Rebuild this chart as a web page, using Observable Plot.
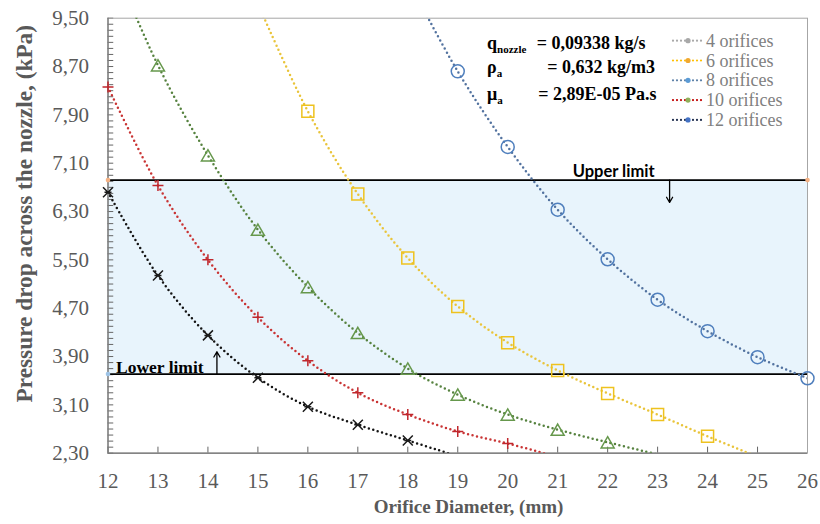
<!DOCTYPE html>
<html>
<head>
<meta charset="utf-8">
<script src="https://cdn.jsdelivr.net/npm/d3@7"></script>
<script src="https://cdn.jsdelivr.net/npm/@observablehq/plot@0.6"></script>
<style>
html, body { margin: 0; padding: 0; background: #fff; }
#chart { position: relative; width: 820px; height: 524px; }
</style>
</head>
<body>
<div id="chart"></div>
<script>
// ---------------- DATA ----------------
const diameters = [12, 13, 14, 15, 16, 17, 18, 19, 20, 21, 22, 23, 24, 25, 26];
const seriesNames = ["4 orifices", "6 orifices", "8 orifices", "10 orifices", "12 orifices"];
// pressure drop (kPa) per diameter; values outside 2.30–9.50 are off-scale estimates (clipped)
const p4  = [null, null, null, null, null, null, 10.14, 8.62, 7.37, 6.33, 5.51, 4.84, 4.32, 3.89, 3.54];
const p6  = [null, null, null, 9.74, 7.96, 6.59, 5.53, 4.73, 4.13, 3.67, 3.29, 2.94, 2.58, 2.24, null];
const p8  = [10.63, 8.72, 7.23, 6.00, 5.05, 4.29, 3.70, 3.27, 2.94, 2.69, 2.48, 2.28, null, null, null];
const p10 = [8.36, 6.73, 5.50, 4.55, 3.83, 3.30, 2.94, 2.66, 2.46, 2.24, null, null, null, null, null];
const p12 = [6.62, 5.24, 4.25, 3.55, 3.07, 2.77, 2.51, 2.25, null, null, null, null, null, null, null];
const seriesValues = [p4, p6, p8, p10, p12];
const limitValues = [3.61, 6.82];           // lower, upper
const limitLabels = ["Lower limit", "Upper limit"];
const xDomain = [12, 26];
const yDomain = [2.3, 9.5];
const yTicks = [2.3, 3.1, 3.9, 4.7, 5.5, 6.3, 7.1, 7.9, 8.7, 9.5];
const xLabel = "Orifice Diameter, (mm)";
const yLabel = "Pressure drop across the nozzle, (kPa)";
const paramSymbols = ["q", "ρ", "μ"];
const paramSubs = ["nozzle", "a", "a"];
const paramValues = ["= 0,09338 kg/s", "= 0,632 kg/m3", "= 2,89E-05 Pa.s"];
const legendLabels = ["4 orifices", "6 orifices", "8 orifices", "10 orifices", "12 orifices"];

// ---------------- STYLES ----------------
const serif = "Liberation Serif, Times New Roman, serif";
const lineColors   = ["#52729f", "#e9c43a", "#56823f", "#c93434", "#141414"];
const markerColors = ["#4f7fbd", "#eec21f", "#66984c", "#c0272d", "#1a1a1a"];
const legendLine = ["#a8a8a8", "#ffc000", "#5b7fa6", "#c00000", "#1f2d4d"];
const legendDot  = ["#a8a8a8", "#f0a830", "#5b9bd5", "#8faf5a", "#4472c4"];

const rad = s => Math.sqrt(s / Math.PI);
const symCircle = {draw(c, s) { const r = rad(s); c.moveTo(r, 0); c.arc(0, 0, r, 0, 2 * Math.PI); }};
const symSquare = {draw(c, s) { const r = rad(s); c.rect(-r, -r, 2 * r, 2 * r); }};
const symTriangle = {draw(c, s) { const r = rad(s); const h = r * Math.sqrt(3); c.moveTo(0, -h / 2); c.lineTo(r, h / 2); c.lineTo(-r, h / 2); c.closePath(); }};
const symPlus = {draw(c, s) { const r = rad(s); c.moveTo(-r, 0); c.lineTo(r, 0); c.moveTo(0, -r); c.lineTo(0, r); }};
const symX = {draw(c, s) { const r = rad(s); c.moveTo(-r, -r); c.lineTo(r, r); c.moveTo(-r, r); c.lineTo(r, -r); c.moveTo(-r * 0.7, 0); c.lineTo(r * 0.7, 0); }};
const markerSymbols = [symCircle, symSquare, symTriangle, symPlus, symX];
const markerR = [6.5, 6, 6.5, 5.5, 5];

const rows = seriesNames.flatMap((name, si) =>
  diameters.map((d, i) => ({series: name, d, p: seriesValues[si][i]})).filter(r => r.p != null));
const inRange = r => r.p >= yDomain[0] && r.p <= yDomain[1];

const yMinor = d3.range(Math.round(yDomain[0] * 10), Math.round(yDomain[1] * 10) + 1).map(v => v / 10);

const seriesMarks = seriesNames.flatMap((name, si) => {
  const data = rows.filter(r => r.series === name);
  return [
    Plot.line(data, {x: "d", y: "p", curve: "catmull-rom", stroke: lineColors[si], strokeWidth: 2.5,
      strokeDasharray: "0 4.6", strokeLinecap: "round", clip: true}),
    Plot.dot(data.filter(inRange), {x: "d", y: "p", symbol: markerSymbols[si], r: markerR[si],
      stroke: markerColors[si], strokeWidth: 1.5, fill: "none"})
  ];
});

const plot = Plot.plot({
  width: 820, height: 524,
  marginLeft: 107.5, marginRight: 13, marginTop: 17.7, marginBottom: 71.3,
  style: "font-family: 'Liberation Serif', 'Times New Roman', serif; background: white; overflow: visible;",
  x: {domain: xDomain, label: null},
  y: {domain: yDomain, label: null},
  marks: [
    Plot.rect([limitValues], {x1: xDomain[0], x2: xDomain[1], y1: d => d[0], y2: d => d[1], fill: "#e8f4fc"}),
    Plot.ruleY(yMinor, {x1: xDomain[0], x2: xDomain[0] + 0.115, stroke: "#666", strokeWidth: 1}),
    Plot.ruleX(diameters, {y1: yDomain[0], y2: yDomain[0] + 0.1, stroke: "#666", strokeWidth: 1}),
    Plot.frame({stroke: "#a6a6a6"}),
    Plot.ruleX([xDomain[0]], {stroke: "#707070", strokeWidth: 1.2}),
    Plot.ruleY([yDomain[0]], {stroke: "#707070", strokeWidth: 1.2}),
    Plot.axisX(diameters, {tickSize: 0, tickPadding: 20, fontSize: 21, fontFamily: serif, color: "#595959", label: null}),
    Plot.axisY(yTicks, {tickSize: 0, tickPadding: 19, fontSize: 21, fontFamily: serif, color: "#595959", label: null,
      tickFormat: d => d.toFixed(2).replace(".", ",")}),
    Plot.ruleY(limitValues, {x1: xDomain[0], x2: xDomain[1], stroke: "#000", strokeWidth: 1.8}),
    Plot.dot([limitValues[1]], {x: xDomain[0], y: d => d, r: 2.3, fill: "#f4b183"}),
    Plot.dot([limitValues[1]], {x: xDomain[1], y: d => d, r: 2.3, fill: "#f4b183"}),
    Plot.dot([limitValues[0]], {x: xDomain[0], y: d => d, r: 2.3, fill: "#9dc3e6"}),
    ...seriesMarks,
    Plot.text([limitLabels[1]], {x: 22.12, y: 6.87, text: d => d, lineAnchor: "bottom",
      fontFamily: "Lato, Open Sans, sans-serif", fontWeight: "bold", fontSize: 16.5, fill: "#000"}),
    Plot.arrow([limitValues[1]], {x1: 23.24, y1: d => d, x2: 23.24, y2: 6.45, stroke: "#000", strokeWidth: 1.3, headLength: 7}),
    Plot.text([limitLabels[0]], {x: 12.16, y: 3.62, text: d => d, lineAnchor: "bottom", textAnchor: "start",
      fontFamily: serif, fontWeight: "bold", fontSize: 17.5, fill: "#000"}),
    Plot.arrow([limitValues[0]], {x1: 14.18, y1: d => d, x2: 14.18, y2: 3.98, stroke: "#000", strokeWidth: 1.3, headLength: 7}),
    Plot.text([xLabel], {frameAnchor: "bottom", text: d => d, dx: 10.75, dy: 59.3, lineAnchor: "bottom", textAnchor: "middle",
      fontFamily: serif, fontWeight: "bold", fontSize: 19, fill: "#595959"}),
    Plot.text([yLabel], {frameAnchor: "left", text: d => d, rotate: -90, dx: -83.5, dy: -22, textAnchor: "middle", lineAnchor: "middle",
      fontFamily: serif, fontWeight: "bold", fontSize: 23.3, fill: "#595959"})
  ]
});

document.getElementById("chart").appendChild(plot);

// -------- parameter block and legend (drawn into the same SVG) --------
const svg = d3.select(plot);
const pg = svg.append("g").attr("font-family", serif).attr("font-weight", "bold")
  .attr("fill", "#000").attr("text-anchor", "start");
const paramY = [49.3, 73.3, 100];
const paramX = [536.7, 547.3, 538.3];
paramSymbols.forEach((s, i) => {
  const t = pg.append("text").attr("x", 487).attr("y", paramY[i]).attr("font-size", 18);
  t.append("tspan").text(s);
  t.append("tspan").attr("dy", 4).attr("font-size", 11).text(paramSubs[i]);
  pg.append("text").attr("x", paramX[i]).attr("y", paramY[i]).attr("font-size", 18).text(paramValues[i]);
});

const lg = svg.append("g").attr("font-family", serif).attr("text-anchor", "start");
legendLabels.forEach((lab, i) => {
  const cy = 40.7 + 19.8 * i;
  lg.append("line").attr("x1", 673).attr("x2", 703).attr("y1", cy).attr("y2", cy)
    .attr("stroke", legendLine[i]).attr("stroke-width", 2.2).attr("stroke-dasharray", "0 4")
    .attr("stroke-linecap", "round");
  lg.append("circle").attr("cx", 688).attr("cy", cy).attr("r", 2.6).attr("fill", legendDot[i]);
  lg.append("text").attr("x", 706).attr("y", cy + 6).attr("font-size", 18).attr("fill", "#808080").text(lab);
});
</script>
</body>
</html>
